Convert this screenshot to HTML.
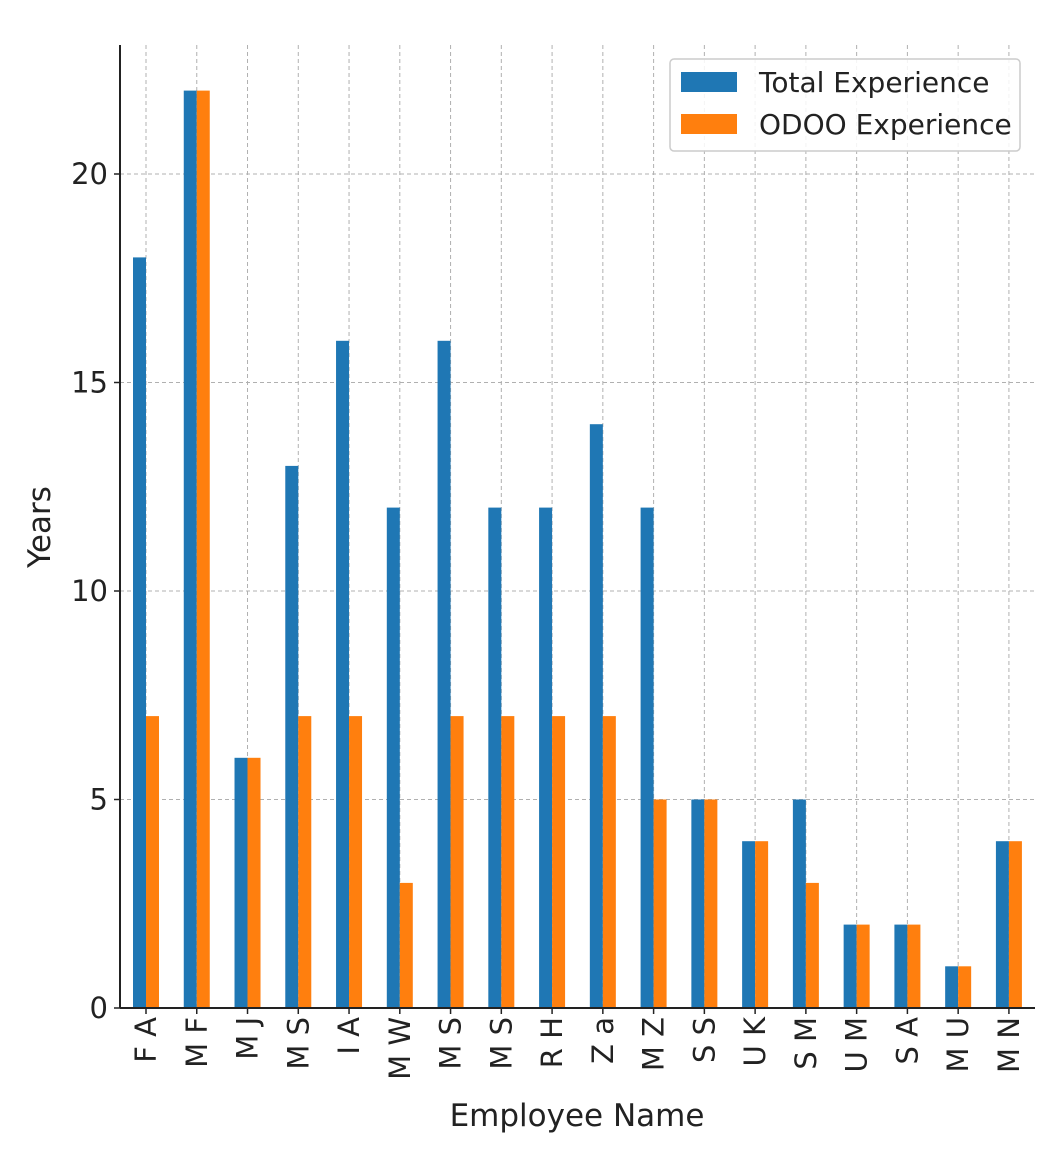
<!DOCTYPE html>
<html><head><meta charset="utf-8"><style>
html,body{margin:0;padding:0;background:#fff}
svg{display:block;font-family:"DejaVu Sans","Liberation Sans",sans-serif}
</style></head><body>
<svg id="chart" width="1058" height="1164"></svg>
<script>
const categories=["F A","M F","M J","M S","I A","M W","M S","M S","R H","Z a","M Z","S S","U K","S M","U M","S A","M U","M N"];
const totalExp=[18,22,6,13,16,12,16,12,12,14,12,5,4,5,2,2,1,4];
const odooExp=[7,22,6,7,7,3,7,7,7,7,5,5,4,3,2,2,1,4];
const yTicks=[0,5,10,15,20];
const seriesNames=["Total Experience","ODOO Experience"];
const colors=["#1f77b4","#ff7f0e"];

const NS="http://www.w3.org/2000/svg";
const svg=document.getElementById('chart');
const L=120,R=1035,B=1008,T=45;
const y=v=>B-v*41.7;
const x0=146,step=50.76;
const x=i=>x0+i*step;
const bw=13;
function el(tag,attrs,parent){const e=document.createElementNS(NS,tag);for(const k in attrs)e.setAttribute(k,attrs[k]);(parent||svg).appendChild(e);return e;}

const grid=el('g',{});


yTicks.forEach(t=>{const g=el('line',{x1:L,x2:R,y1:y(t),y2:y(t),stroke:'#b0b0b0','stroke-width':1,'stroke-dasharray':'4,3'},grid);

});
categories.forEach((c,i)=>{const g=el('line',{x1:x(i),x2:x(i),y1:T,y2:B,stroke:'#b0b0b0','stroke-width':1,'stroke-dasharray':'4,3'},grid);

});

categories.forEach((c,i)=>{
 const b1=el('rect',{x:x(i)-bw,y:y(totalExp[i]),width:bw,height:B-y(totalExp[i]),fill:colors[0]});
 
 
 const b2=el('rect',{x:x(i),y:y(odooExp[i]),width:bw,height:B-y(odooExp[i]),fill:colors[1]});
 
 
 const t=el('text',{x:0,y:0,transform:`translate(${x(i)+10},1017) rotate(-90)`,'text-anchor':'end','font-size':29,fill:'#222'});
 t.textContent=c;
 
 
 const tk=el('line',{x1:x(i),x2:x(i),y1:B,y2:B+6,stroke:'#222','stroke-width':1.5});
 
 
});
yTicks.forEach(t=>{
 const tx=el('text',{x:108,y:y(t)+10,'text-anchor':'end','font-size':29,fill:'#222'});
 tx.textContent=t;
 
 
 const tk=el('line',{x1:L-6,x2:L,y1:y(t),y2:y(t),stroke:'#222','stroke-width':1.5});
 
 
});
const ya=el('line',{x1:L,x2:L,y1:T,y2:B,stroke:'#222','stroke-width':2});


const xa=el('line',{x1:L,x2:R,y1:B,y2:B,stroke:'#222','stroke-width':2});



const yt=el('text',{x:0,y:0,transform:'translate(50,527) rotate(-90)','text-anchor':'middle','font-size':31,fill:'#222'});
yt.textContent='Years';


const xt=el('text',{x:577,y:1126,'text-anchor':'middle','font-size':31,fill:'#222'});
xt.textContent='Employee Name';



const lg=el('g',{});


el('rect',{x:670,y:59,width:350,height:92,rx:4,fill:'#fff','fill-opacity':0.85,stroke:'#ccc','stroke-width':1.5},lg);
seriesNames.forEach((n,i)=>{
 const p=el('rect',{x:681,y:72+i*42,width:56,height:20,fill:colors[i]},lg);
 
 
 const t=el('text',{x:759,y:92+i*42,'font-size':28,fill:'#222'},lg);
 t.textContent=n;
 
 
});
</script>
</body></html>
